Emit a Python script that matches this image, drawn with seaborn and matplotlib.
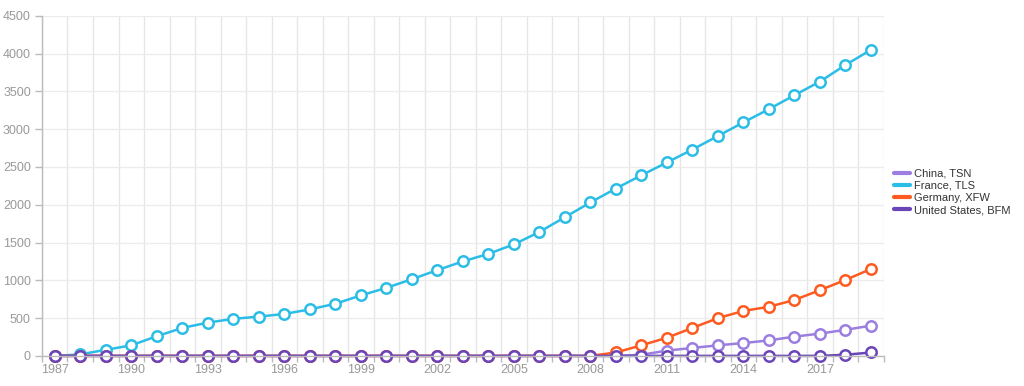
import numpy as np
import pandas as pd
import seaborn as sns
import matplotlib
matplotlib.use("Agg")
import matplotlib.pyplot as plt
from matplotlib.lines import Line2D
from matplotlib.ticker import FixedLocator

years = list(range(1987, 2020))
series_names = ["China, TSN", "France, TLS", "Germany, XFW", "United States, BFM"]
colors = ["#9b7ee0", "#2bbde6", "#ff5a1f", "#6a45b8"]

china = [0]*23 + [15, 70, 105, 140, 170, 205, 255, 295, 345, 400]
france = [0, 20, 80, 140, 260, 370, 440, 490, 520, 555, 615, 690, 800, 900,
          1015, 1135, 1250, 1350, 1475, 1640, 1835, 2030, 2215, 2390, 2560,
          2730, 2910, 3090, 3265, 3450, 3630, 3850, 4050]
germany = [0]*21 + [0, 45, 140, 240, 370, 500, 595, 650, 740, 870, 1005, 1150]
usa = [0]*31 + [15, 45]

y_ticks = list(range(0, 5000, 500))
x_tick_labels = list(range(1987, 2020, 3))

frames = []
for name, vals in zip(series_names, [china, france, germany, usa]):
    frames.append(pd.DataFrame({"year": years, "value": vals, "series": name}))
df = pd.concat(frames, ignore_index=True)

sns.set_theme(style="white")
plt.rcParams["font.family"] = ["Liberation Sans", "DejaVu Sans"]

fig = plt.figure(figsize=(10.24, 3.86), dpi=100)
ax = fig.add_axes([0.041, 0.078, 0.822, 0.881])

sns.lineplot(data=df, x="year", y="value", hue="series", hue_order=series_names,
             palette=colors, marker="o", markersize=7.5, markerfacecolor="white",
             markeredgewidth=1.8, linewidth=1.8, legend=False, ax=ax)
for line in ax.lines:
    line.set_markeredgecolor(line.get_color())
    line.set_clip_on(False)

ax.set_xlim(1986.5, 2019.5)
ax.set_ylim(0, 4500)
ax.set_xlabel("")
ax.set_ylabel("")

ax.xaxis.set_major_locator(FixedLocator(x_tick_labels))
ax.set_xticklabels([str(y) for y in x_tick_labels])
ax.xaxis.set_minor_locator(FixedLocator([y + 0.5 for y in years[:-1]] + [1986.5, 2019.5]))
ax.yaxis.set_major_locator(FixedLocator(y_ticks))

ax.grid(False)
ax.grid(which="minor", axis="x", color="#e6e6e6", linewidth=1)
ax.grid(which="major", axis="y", color="#ececec", linewidth=1)
ax.set_axisbelow(True)

ax.tick_params(axis="x", which="major", length=0, labelsize=9, labelcolor="#999999", pad=6)
ax.tick_params(axis="x", which="minor", length=4, color="#bbbbbb", width=1, bottom=True)
ax.tick_params(axis="y", which="major", length=5, color="#bbbbbb", width=1, left=True,
               labelsize=9, labelcolor="#999999", pad=3)

for s in ["top", "right"]:
    ax.spines[s].set_visible(False)
for s in ["left", "bottom"]:
    ax.spines[s].set_color("#bbbbbb")
    ax.spines[s].set_linewidth(1)

handles = [Line2D([0], [0], color=c, linewidth=3) for c in colors]
fig.legend(handles, series_names, loc="center left", bbox_to_anchor=(0.871, 0.503),
           frameon=False, fontsize=8, handlelength=1.4, handletextpad=0.35,
           labelspacing=0.2, labelcolor="#333333", borderaxespad=0, borderpad=0.2)

fig.savefig("out.png", dpi=100)
